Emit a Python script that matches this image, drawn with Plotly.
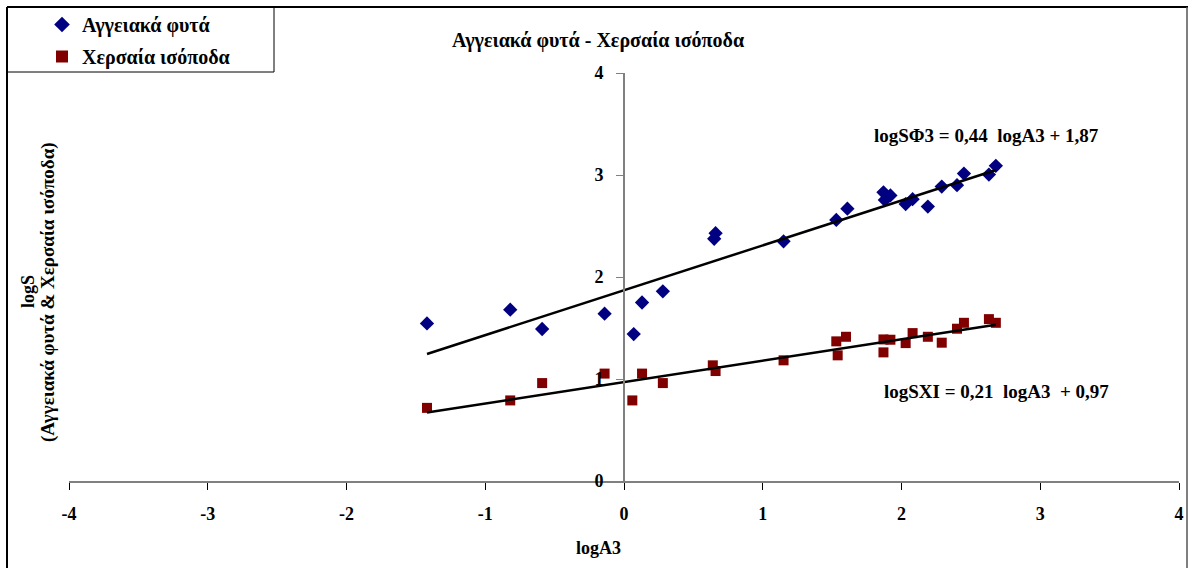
import plotly.graph_objects as go

# ---- data ----
plants_x = [-1.42, -0.82, -0.59, -0.14, 0.07, 0.13, 0.28, 0.65, 0.66, 1.15, 1.53,
            1.61, 1.87, 1.88, 1.92, 2.03, 2.08, 2.19, 2.29, 2.40, 2.45, 2.63, 2.68]
plants_y = [1.545, 1.68, 1.49, 1.64, 1.44, 1.75, 1.86, 2.375, 2.43, 2.35, 2.56,
            2.67, 2.83, 2.755, 2.80, 2.715, 2.763, 2.69, 2.887, 2.90, 3.014, 3.004, 3.09]

iso_x = [-1.42, -0.82, -0.59, -0.14, 0.06, 0.13, 0.28, 0.64, 0.66, 1.15, 1.53,
         1.54, 1.60, 1.87, 1.87, 1.92, 2.03, 2.08, 2.19, 2.29, 2.40, 2.45, 2.63, 2.68]
iso_y = [0.717, 0.79, 0.96, 1.053, 0.79, 1.053, 0.96, 1.134, 1.078, 1.183, 1.369,
         1.232, 1.414, 1.388, 1.261, 1.385, 1.352, 1.45, 1.414, 1.356, 1.493, 1.551, 1.587, 1.551]

plants_slope, plants_icpt = 0.44, 1.87
iso_slope, iso_icpt = 0.21, 0.97

x_ticks = [-4, -3, -2, -1, 0, 1, 2, 3, 4]
y_ticks = [0, 1, 2, 3, 4]

name_plants = "Αγγειακά φυτά"
name_iso = "Χερσαία ισόποδα"
title_text = "Αγγειακά φυτά - Χερσαία ισόποδα"
eq_plants = "logSΦ3 = 0,44  logA3 + 1,87"
eq_iso = "logSXI = 0,21  logA3  + 0,97"

FONT = "Liberation Serif"
W, H = 1189, 568
L, R, T, B = 69, 10, 73, 87
pw, ph = W - L - R, H - T - B


def px(x):
    return (x - L) / pw


def py(y):
    return (H - B - y) / ph


def bold(s):
    return "<b>" + s + "</b>"


fig = go.Figure()

fig.add_trace(go.Scatter(
    x=plants_x, y=plants_y, mode="markers", name=bold(name_plants), legendgroup="a",
    marker=dict(symbol="diamond", size=11, color="#000080")))
fig.add_trace(go.Scatter(
    x=iso_x, y=iso_y, mode="markers", name=bold(name_iso), legendgroup="b",
    marker=dict(symbol="square", size=10, color="#800000")))

for xs, m, c in [(plants_x, plants_slope, plants_icpt), (iso_x, iso_slope, iso_icpt)]:
    x0, x1 = min(xs), max(xs)
    fig.add_trace(go.Scatter(
        x=[x0, x1], y=[m * x0 + c, m * x1 + c], mode="lines",
        line=dict(color="black", width=2.5), showlegend=False, hoverinfo="skip"))

shapes = [
    # outer chart frame
    dict(type="line", xref="paper", yref="paper", x0=px(7), x1=px(1188), y0=py(7), y1=py(7),
         line=dict(color="black", width=2)),
    dict(type="line", xref="paper", yref="paper", x0=px(7), x1=px(7), y0=py(7), y1=py(575),
         line=dict(color="black", width=2)),
    dict(type="line", xref="paper", yref="paper", x0=px(1187), x1=px(1187), y0=py(7), y1=py(575),
         line=dict(color="#555555", width=1.5)),
    # legend box
    dict(type="rect", xref="paper", yref="paper", x0=px(7), x1=px(274), y0=py(72), y1=py(7),
         line=dict(color="black", width=1), fillcolor="rgba(0,0,0,0)"),
]

annotations = [
    dict(text=bold(title_text), xref="paper", yref="paper", x=px(598), y=py(40),
         showarrow=False, font=dict(family=FONT, size=20, color="black"),
         xanchor="center", yanchor="middle"),
    dict(text=bold("logA3"), xref="paper", yref="paper", x=px(598), y=py(548),
         showarrow=False, font=dict(family=FONT, size=18, color="black"),
         xanchor="center", yanchor="middle"),
    dict(text=bold("logS"), xref="paper", yref="paper", x=px(28), y=py(292),
         showarrow=False, textangle=-90, font=dict(family=FONT, size=18, color="black"),
         xanchor="center", yanchor="middle"),
    dict(text=bold("(Αγγειακά φυτά & Χερσαία ισόποδα)"), xref="paper", yref="paper",
         x=px(48), y=py(292), showarrow=False, textangle=-90,
         font=dict(family=FONT, size=19, color="black"), xanchor="center", yanchor="middle"),
    dict(text=bold(eq_plants), xref="paper", yref="paper", x=px(986), y=py(135),
         showarrow=False, font=dict(family=FONT, size=19, color="black"),
         xanchor="center", yanchor="middle"),
    dict(text=bold(eq_iso), xref="paper", yref="paper", x=px(996), y=py(391),
         showarrow=False, font=dict(family=FONT, size=19, color="black"),
         xanchor="center", yanchor="middle"),
]

fig.update_layout(
    width=W, height=H,
    margin=dict(l=L, r=R, t=T, b=B, pad=0, autoexpand=False),
    paper_bgcolor="white", plot_bgcolor="white",
    font=dict(family=FONT, size=16, color="black"),
    showlegend=True,
    legend=dict(
        x=px(42), y=py(5), xanchor="left", yanchor="top",
        bgcolor="rgba(0,0,0,0)", borderwidth=0,
        font=dict(family=FONT, size=20, color="black"),
        tracegroupgap=3, traceorder="grouped", itemsizing="constant"),
    xaxis=dict(
        range=[-4, 4], tickvals=x_ticks, ticktext=[bold(str(v)) for v in x_ticks],
        showgrid=False, zeroline=False, showline=True, linecolor="#808080", linewidth=2,
        ticks="outside", ticklen=7, tickcolor="black", tickwidth=1,
        ticklabelstandoff=8,
        tickfont=dict(family=FONT, size=18, color="black", weight="bold"),
        mirror=False, fixedrange=True, automargin=False),
    yaxis=dict(
        range=[0, 4], tickvals=y_ticks, ticktext=[bold(str(v)) for v in y_ticks],
        anchor="free", position=0.5,
        showgrid=False, zeroline=False, showline=True, linecolor="#808080", linewidth=2,
        ticks="outside", ticklen=7, tickcolor="#808080", tickwidth=1,
        ticklabelstandoff=9,
        tickfont=dict(family=FONT, size=18, color="black", weight="bold"),
        fixedrange=True, automargin=False),
    shapes=shapes,
    annotations=annotations,
)

fig.write_html(
    "out.html",
    config={"displayModeBar": False},
    post_script="document.body.style.margin='0';document.body.style.padding='0';"
                "document.body.style.overflow='hidden';",
)
